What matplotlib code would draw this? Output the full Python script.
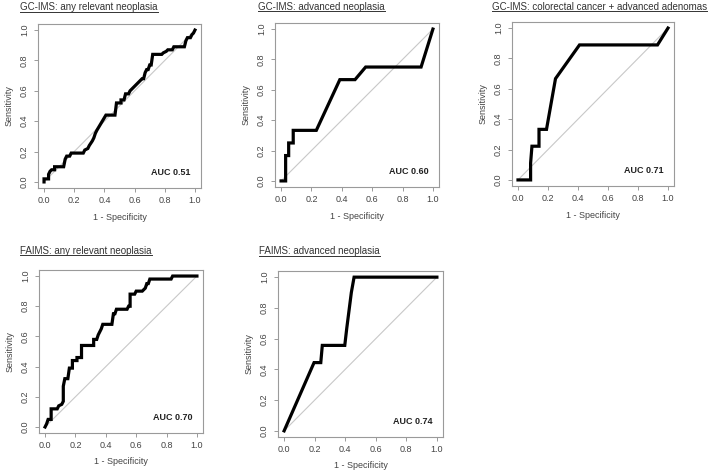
import matplotlib
matplotlib.use("Agg")
import matplotlib.pyplot as plt
from matplotlib.lines import Line2D

plt.rcParams['font.family'] = ['Liberation Sans', 'DejaVu Sans']

# ROC curves (1 - specificity, sensitivity)
gc_any_fpr = [0, 0, 0.03, 0.03, 0.04, 0.05, 0.07, 0.07, 0.13, 0.14, 0.15, 0.17, 0.18, 0.26, 0.27,
              0.29, 0.30, 0.32, 0.33, 0.34, 0.35, 0.41, 0.47, 0.48, 0.51, 0.51, 0.53, 0.54, 0.56,
              0.57, 0.65, 0.66, 0.67, 0.68, 0.69, 0.70, 0.71, 0.72, 0.78, 0.79, 0.81, 0.82, 0.85,
              0.86, 0.93, 0.94, 0.95, 0.97, 0.98, 0.99, 1.0]
gc_any_tpr = [0, 0.02, 0.02, 0.05, 0.07, 0.08, 0.08, 0.10, 0.10, 0.15, 0.17, 0.17, 0.19, 0.19, 0.21,
              0.22, 0.24, 0.27, 0.29, 0.32, 0.34, 0.44, 0.44, 0.52, 0.52, 0.54, 0.54, 0.58, 0.58,
              0.60, 0.68, 0.68, 0.72, 0.74, 0.74, 0.77, 0.77, 0.84, 0.84, 0.85, 0.86, 0.87, 0.87,
              0.89, 0.89, 0.93, 0.95, 0.95, 0.97, 0.98, 1.0]

gc_adv_fpr = [0, 0.03, 0.03, 0.05, 0.05, 0.08, 0.08, 0.232, 0.387, 0.487, 0.557, 0.922, 1.0]
gc_adv_tpr = [0, 0, 0.167, 0.167, 0.25, 0.25, 0.333, 0.333, 0.667, 0.667, 0.75, 0.75, 1.0]

gc_crc_fpr = [0, 0.084, 0.084, 0.093, 0.14, 0.14, 0.19, 0.25, 0.33, 0.41, 0.93, 1.0]
gc_crc_tpr = [0, 0, 0.111, 0.222, 0.222, 0.333, 0.333, 0.667, 0.778, 0.889, 0.889, 1.0]

fa_any_fpr = [0, 0.01, 0.02, 0.04, 0.04, 0.08, 0.09, 0.11, 0.12, 0.12, 0.13, 0.15, 0.16, 0.18, 0.18,
              0.21, 0.21, 0.24, 0.24, 0.32, 0.32, 0.34, 0.35, 0.36, 0.37, 0.38, 0.44, 0.45, 0.46,
              0.47, 0.54, 0.55, 0.56, 0.56, 0.59, 0.60, 0.64, 0.66, 0.67, 0.68, 0.69, 0.83, 0.84, 1.0]
fa_any_tpr = [0, 0.02, 0.05, 0.05, 0.12, 0.12, 0.14, 0.15, 0.17, 0.27, 0.32, 0.32, 0.39, 0.39, 0.44,
              0.44, 0.46, 0.46, 0.54, 0.54, 0.58, 0.58, 0.61, 0.63, 0.65, 0.68, 0.68, 0.75, 0.75,
              0.78, 0.78, 0.80, 0.80, 0.88, 0.88, 0.90, 0.90, 0.92, 0.95, 0.95, 0.98, 0.98, 1.0, 1.0]

fa_adv_fpr = [0, 0.196, 0.24, 0.25, 0.397, 0.41, 0.44, 0.458, 1.0]
fa_adv_tpr = [0, 0.444, 0.444, 0.556, 0.556, 0.667, 0.9, 1.0, 1.0]

titles = ["GC-IMS: any relevant neoplasia", "GC-IMS: advanced neoplasia",
          "GC-IMS: colorectal cancer + advanced adenomas",
          "FAIMS: any relevant neoplasia", "FAIMS: advanced neoplasia"]
auc_labels = ["AUC 0.51", "AUC 0.60", "AUC 0.71", "AUC 0.70", "AUC 0.74"]
curves = [(gc_any_fpr, gc_any_tpr), (gc_adv_fpr, gc_adv_tpr), (gc_crc_fpr, gc_crc_tpr),
          (fa_any_fpr, fa_any_tpr), (fa_adv_fpr, fa_adv_tpr)]
ticks = [0.0, 0.2, 0.4, 0.6, 0.8, 1.0]

W, H = 709, 475
fig = plt.figure(figsize=(W / 100, H / 100), dpi=100)

# pixel boxes (left, top, right, bottom) and title anchor (x, baseline)
boxes = [(38, 24, 201, 188), (275, 23, 439, 187), (512, 22, 674, 186),
         (39, 270, 203, 433), (278, 271, 443, 437)]
title_pos = [(20, 10), (258, 9.5), (492, 9.5), (20, 253.5), (259, 254)]

box_col = "#9a9a9a"
txt_col = "#444444"

titles_art = []
for i in range(5):
    l, t, r, b = boxes[i]
    ax = fig.add_axes([l / W, 1 - b / H, (r - l) / W, (b - t) / H])
    fpr, tpr = curves[i]
    ax.plot([0, 1], [0, 1], color="#c8c8c8", lw=0.8)
    ax.plot(fpr, tpr, color="black", lw=2.3, solid_joinstyle="miter")
    ax.set_xlim(-0.04, 1.04)
    ax.set_ylim(-0.04, 1.04)
    ax.set_xticks(ticks)
    ax.set_yticks(ticks)
    ax.set_xticklabels(["%.1f" % v for v in ticks])
    ax.set_yticklabels(["%.1f" % v for v in ticks], rotation=90, va="center")
    ax.tick_params(length=2.6, width=0.7, color=box_col, labelsize=6.5, labelcolor=txt_col)
    ax.tick_params(axis="x", pad=3.0)
    ax.tick_params(axis="y", pad=4.0)
    for s in ax.spines.values():
        s.set_color(box_col)
        s.set_linewidth(0.8)
    ax.set_xlabel("1 - Specificity", fontsize=6.5, color=txt_col, va="center")
    ax.set_ylabel("Sensitivity", fontsize=6.5, color=txt_col, va="center")
    ax.xaxis.set_label_coords(0.5, -29 / (b - t))
    ax.yaxis.set_label_coords(-29 / (r - l), 0.5)
    ax.text(0.97, 0.06, auc_labels[i], ha="right", va="center", fontsize=6.5,
            fontweight="bold", color="#222222")
    tx, ty = title_pos[i]
    titles_art.append(fig.text(tx / W, 1 - ty / H, titles[i], fontsize=7, color="#333333",
                               ha="left", va="baseline"))

# underline the panel titles
fig.canvas.draw()
rend = fig.canvas.get_renderer()
for i, t in enumerate(titles_art):
    bb = t.get_window_extent(rend)
    y = (H - title_pos[i][1] - 1.5) / H
    fig.add_artist(Line2D([bb.x0 / W, bb.x1 / W], [y, y], transform=fig.transFigure,
                          color="#333333", lw=0.7))

fig.savefig("out.png", dpi=100)
